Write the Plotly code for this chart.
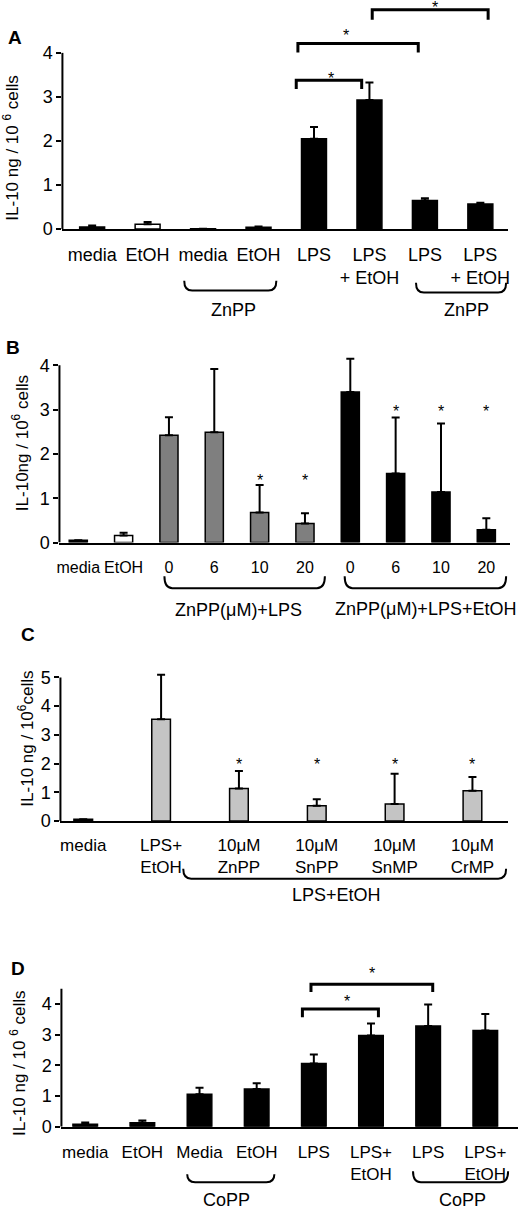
import plotly.graph_objects as go

W, H = 520, 1217
FONT = "Liberation Sans, Arial, sans-serif"

# ---- data (IL-10 ng / 10^6 cells, mean and upper SD) ----
cats_a = ["media", "EtOH", "media", "EtOH", "LPS", "LPS<br>+ EtOH", "LPS", "LPS<br>+ EtOH"]
il10_a = [0.05, 0.11, 0.01, 0.04, 2.05, 2.93, 0.65, 0.57]
sd_a = [0.03, 0.05, 0.0, 0.02, 0.27, 0.40, 0.05, 0.03]

cats_b = ["media", "EtOH", "0", "6", "10", "20", "0", "6", "10", "20"]
il10_b = [0.05, 0.16, 2.42, 2.49, 0.68, 0.43, 3.40, 1.56, 1.14, 0.29]
sd_b = [0.0, 0.06, 0.41, 1.43, 0.62, 0.23, 0.75, 1.26, 1.55, 0.26]

cats_c = ["media", "LPS+<br>EtOH", "10μM<br>ZnPP", "10μM<br>SnPP", "10μM<br>SnMP", "10μM<br>CrMP"]
il10_c = [0.06, 3.54, 1.13, 0.53, 0.59, 1.05]
sd_c = [0.0, 1.55, 0.61, 0.22, 1.05, 0.48]

cats_d = ["media", "EtOH", "Media", "EtOH", "LPS", "LPS+<br>EtOH", "LPS", "LPS+<br>EtOH"]
il10_d = [0.08, 0.13, 1.06, 1.23, 2.06, 2.98, 3.29, 3.14]
sd_d = [0.06, 0.07, 0.21, 0.19, 0.30, 0.39, 0.70, 0.54]

BLK, WHT, GRY, LGRY = "black", "white", "#7f7f7f", "#c4c4c4"
fill_a = [BLK, WHT, BLK, BLK, BLK, BLK, BLK, BLK]
fill_b = [BLK, WHT, GRY, GRY, GRY, GRY, BLK, BLK, BLK, BLK]
fill_c = [BLK, LGRY, LGRY, LGRY, LGRY, LGRY]
fill_d = [BLK] * 8

# significance: (x from, x to, leg bottom, bar top, star x, star y)
sig_a = [(3.68, 4.86, 3.18, 3.38, 4.30, 3.51),
         (3.71, 5.88, 4.01, 4.21, 4.57, 4.48),
         (5.05, 7.14, 4.75, 4.98, 6.18, 5.11)]
sig_d = [(3.80, 5.13, 3.57, 3.84, 4.58, 4.21),
         (3.95, 6.08, 4.40, 4.65, 5.01, 5.12)]
stars_b = [(4, 1.5), (5, 1.5), (7, 3.05), (8, 3.05), (9, 3.05)]
stars_c = [(2, 2.1), (3, 2.1), (4, 2.1), (5, 2.1)]


def px(x, y):
    return x / W, 1 - y / H


panels = [
    dict(letter="A", cats=cats_a, vals=il10_a, sd=sd_a, fill=fill_a, width=0.45, tick=18, gap=8,
         xpx=(60, 510), ypx=(0, 231), ymax=5.2, xr=(-0.536, 7.5), ytop=4, ybot=0,
         title="IL-10 ng / 10 <sup>6</sup> cells", tpos=(8, 149), lpos=(12, 38)),
    dict(letter="B", cats=cats_b, vals=il10_b, sd=sd_b, fill=fill_b, width=0.4, tick=16, gap=9,
         xpx=(57, 512), ypx=(355, 547), ymax=4.3, xr=(-0.415, 9.524), ytop=4, ybot=0,
         title="IL-10ng / 10<sup>6</sup> cells", tpos=(18, 447), lpos=(10, 350)),
    dict(letter="C", cats=cats_c, vals=il10_c, sd=sd_c, fill=fill_c, width=0.24, tick=17, gap=8,
         xpx=(58, 510), ypx=(670, 827.7), ymax=5.45, xr=(-0.293, 5.458), ytop=5, ybot=-0.15,
         title="IL-10 ng / 10<sup>6</sup>cells", tpos=(23, 745), lpos=(25, 640)),
    dict(letter="D", cats=cats_d, vals=il10_d, sd=sd_d, fill=fill_d, width=0.43, tick=17, gap=9,
         xpx=(59, 520), ypx=(960, 1136), ymax=5.7, xr=(-0.416, 7.572), ytop=4.5, ybot=0,
         title="IL-10 ng / 10 <sup>6</sup> cells", tpos=(15, 1072), lpos=(15, 977)),
]

fig = go.Figure()
layout = {}
shapes = []
annots = []

for i, p in enumerate(panels, start=1):
    xn = "x" if i == 1 else f"x{i}"
    yn = "y" if i == 1 else f"y{i}"
    xkey = "xaxis" if i == 1 else f"xaxis{i}"
    ykey = "yaxis" if i == 1 else f"yaxis{i}"
    n = len(p["cats"])
    xs = list(range(n))

    fig.add_trace(go.Bar(
        x=xs, y=p["vals"], xaxis=xn, yaxis=yn, width=p["width"],
        marker=dict(color=p["fill"], line=dict(color="black", width=1.5)),
        error_y=dict(type="data", array=p["sd"], arrayminus=[0] * n, symmetric=False,
                     color="black", thickness=2, width=4),
        showlegend=False,
    ))

    layout[xkey] = dict(
        domain=[p["xpx"][0] / W, p["xpx"][1] / W], range=list(p["xr"]),
        anchor=yn, tickvals=xs, ticktext=p["cats"], ticks="", tickangle=0,
        ticklabelstandoff=p["gap"],
        showline=True, linewidth=2, linecolor="black",
        showgrid=False, zeroline=False, fixedrange=True,
        tickfont=dict(size=p["tick"], color="black", family=FONT),
    )
    layout[ykey] = dict(
        domain=[1 - p["ypx"][1] / H, 1 - p["ypx"][0] / H], range=[0, p["ymax"]],
        anchor=xn, tickvals=list(range(int(p["ytop"]) + 1)),
        ticks="outside", ticklen=5, tickwidth=2, tickcolor="black",
        showline=False, showgrid=False, zeroline=False, fixedrange=True,
        tickfont=dict(size=18, color="black", family=FONT),
    )

    # y axis spine
    shapes.append(dict(type="line", xref=f"{xn} domain", yref=yn, x0=0, x1=0,
                       y0=p["ybot"], y1=p["ytop"], line=dict(color="black", width=2)))

    tx, ty = px(*p["tpos"])
    annots.append(dict(text=p["title"], x=tx, y=ty, xref="paper", yref="paper",
                       textangle=-90, showarrow=False, xanchor="center", yanchor="middle",
                       font=dict(size=17, family=FONT, color="black")))
    lx, ly = px(*p["lpos"])
    annots.append(dict(text=f"<b>{p['letter']}</b>", x=lx, y=ly, xref="paper", yref="paper",
                       showarrow=False, xanchor="center", yanchor="middle",
                       font=dict(size=19, family=FONT, color="black")))

# significance brackets
for xn, yn, sigs in (("x", "y", sig_a), ("x4", "y4", sig_d)):
    for x0, x1, yl, yt, sx, sy in sigs:
        shapes.append(dict(type="path", xref=xn, yref=yn,
                           path=f"M {x0},{yl} L {x0},{yt} L {x1},{yt} L {x1},{yl}",
                           line=dict(color="black", width=3)))
        annots.append(dict(text="*", x=sx, y=sy, xref=xn, yref=yn, showarrow=False,
                           yanchor="middle", yshift=-4,
                           font=dict(size=16, family=FONT, color="black")))

for xn, yn, stars in (("x2", "y2", stars_b), ("x3", "y3", stars_c)):
    for sx, sy in stars:
        annots.append(dict(text="*", x=sx, y=sy, xref=xn, yref=yn, showarrow=False,
                           yanchor="middle", yshift=-4,
                           font=dict(size=16, family=FONT, color="black")))

# group braces under the category labels (pixel positions)
braces = [
    (183, 276, 283, 293, "ZnPP", 233, 313),
    (417, 508, 285, 295, "ZnPP", 468, 313),
    (163, 325, 581, 593, "ZnPP(μM)+LPS", 238, 615),
    (345, 508, 581, 593, "ZnPP(μM)+LPS+EtOH", 427, 614),
    (182, 508, 876, 886, "LPS+EtOH", 337, 902),
    (186, 274, 1184, 1192, "CoPP", 226, 1210),
    (414, 510, 1181, 1192, "CoPP", 464, 1210),
]
for bx0, bx1, ytip, ybot, label, lx, ly in braces:
    r = 8
    x0, yt = px(bx0, ytip)
    x1, yb = px(bx1, ybot)
    xa, _ = px(bx0 + r, 0)
    xb, _ = px(bx1 - r, 0)
    shapes.append(dict(type="path", xref="paper", yref="paper",
                       path=f"M {x0},{yt} Q {x0},{yb} {xa},{yb} L {xb},{yb} Q {x1},{yb} {x1},{yt}",
                       line=dict(color="black", width=2)))
    ax, ay = px(lx, ly)
    annots.append(dict(text=label, x=ax, y=ay, xref="paper", yref="paper", showarrow=False,
                       xanchor="center", yanchor="middle",
                       font=dict(size=18, family=FONT, color="black")))

fig.update_layout(
    width=W, height=H,
    margin=dict(l=0, r=0, t=0, b=0),
    paper_bgcolor="white", plot_bgcolor="white",
    font=dict(family=FONT, color="black"),
    shapes=shapes, annotations=annots,
    **layout,
)

# drop the browser's default page margin so the figure sits at the window origin
fig.write_html("out.html", config={"displayModeBar": False},
               post_script="document.body.style.margin='0';")
